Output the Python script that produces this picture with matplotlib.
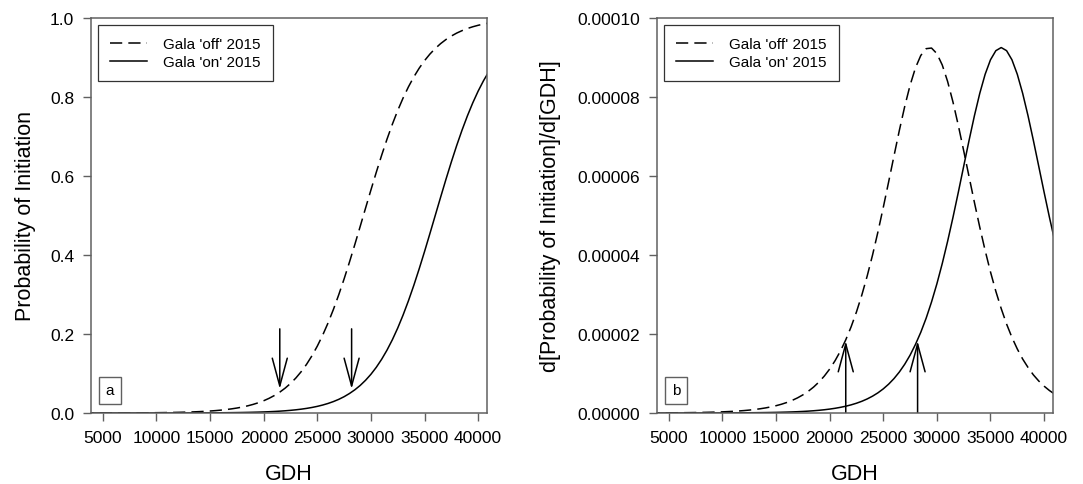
import matplotlib
matplotlib.use("Agg")
import matplotlib.pyplot as plt
from matplotlib.patches import FancyArrowPatch

plt.rcParams['font.family'] = ['Liberation Sans', 'DejaVu Sans']

gdh = [3000, 3500, 4000, 4500, 5000, 5500, 6000, 6500, 7000, 7500, 8000,
       8500, 9000, 9500, 10000, 10500, 11000, 11500, 12000, 12500, 13000,
       13500, 14000, 14500, 15000, 15500, 16000, 16500, 17000, 17500, 18000,
       18500, 19000, 19500, 20000, 20500, 21000, 21500, 22000, 22500, 23000,
       23500, 24000, 24500, 25000, 25500, 26000, 26500, 27000, 27500, 28000,
       28500, 29000, 29500, 30000, 30500, 31000, 31500, 32000, 32500, 33000,
       33500, 34000, 34500, 35000, 35500, 36000, 36500, 37000, 37500, 38000,
       38500, 39000, 39500, 40000, 40500, 41000, 41500, 42000]

prob_off = [0.00006, 0.00007, 0.00009, 0.0001, 0.00012, 0.00015, 0.00018,
            0.00022, 0.00026, 0.00031, 0.00038, 0.00045, 0.00055, 0.00066,
            0.00079, 0.00095, 0.00115, 0.00138, 0.00166, 0.002, 0.0024,
            0.00288, 0.00347, 0.00417, 0.00502, 0.00602, 0.00724, 0.0087,
            0.01045, 0.01255, 0.01506, 0.01806, 0.02166, 0.02593, 0.03103,
            0.03712, 0.0443, 0.05285, 0.0629, 0.07474, 0.08858, 0.1047,
            0.1233, 0.1448, 0.1693, 0.1969, 0.2278, 0.262, 0.2993, 0.3394,
            0.382, 0.4265, 0.4723, 0.5185, 0.5644, 0.6092, 0.6523, 0.693,
            0.7309, 0.7657, 0.7972, 0.8255, 0.8506, 0.8726, 0.8918, 0.9084,
            0.9226, 0.9349, 0.9453, 0.9541, 0.9616, 0.9678, 0.9732, 0.9776,
            0.9813, 0.9844, 0.987, 0.9892, 0.991]

prob_on = [0.000005, 0.000006, 0.000007, 0.000009, 0.00001, 0.000013,
           0.000015, 0.000018, 0.000022, 0.000026, 0.000032, 0.000038,
           0.000046, 0.000055, 0.000066, 0.00008, 0.000096, 0.000116,
           0.000139, 0.000167, 0.000202, 0.000242, 0.000292, 0.000351,
           0.000423, 0.000507, 0.000611, 0.000734, 0.000884, 0.00106,
           0.00128, 0.00154, 0.00185, 0.00222, 0.00268, 0.00322, 0.00388,
           0.00466, 0.0056, 0.00673, 0.00808, 0.00971, 0.01166, 0.01399,
           0.01679, 0.02014, 0.02413, 0.02889, 0.03455, 0.04127, 0.04932,
           0.05869, 0.06976, 0.0828, 0.09796, 0.1156, 0.1359, 0.1591, 0.1854,
           0.215, 0.2479, 0.284, 0.323, 0.3647, 0.4085, 0.4539, 0.5, 0.5461,
           0.5915, 0.6353, 0.677, 0.716, 0.7521, 0.785, 0.8146, 0.8409,
           0.8641, 0.8844, 0.902]

# derivative values in units of 1e-5 per GDH
deriv_off_e5 = [0.0022, 0.0026, 0.0032, 0.0038, 0.0046, 0.0056, 0.0067, 0.008,
                0.0097, 0.0116, 0.014, 0.0168, 0.0202, 0.0243, 0.0292, 0.0352,
                0.0423, 0.0509, 0.0612, 0.0737, 0.0886, 0.1063, 0.1279,
                0.1536, 0.1848, 0.2214, 0.2659, 0.3191, 0.3826, 0.4585,
                0.5488, 0.6562, 0.7841, 0.9345, 1.1125, 1.3225, 1.5665,
                1.8521, 2.181, 2.5587, 2.9872, 3.4683, 3.9997, 4.5818, 5.2036,
                5.8508, 6.5085, 7.1542, 7.7595, 8.2956, 8.7349, 9.0502,
                9.2217, 9.2372, 9.0963, 8.8088, 8.3917, 7.8718, 7.2773, 6.638,
                5.982, 5.3298, 4.702, 4.1133, 3.5701, 3.0788, 2.6421, 2.252,
                1.9132, 1.6203, 1.3662, 1.153, 0.965, 0.8103, 0.679, 0.5682,
                0.4747, 0.3953, 0.33]

deriv_on_e5 = [0.0002, 0.0002, 0.0003, 0.0003, 0.0004, 0.0005, 0.0006, 0.0007,
               0.0008, 0.001, 0.0012, 0.0014, 0.0017, 0.002, 0.0025, 0.003,
               0.0036, 0.0043, 0.0051, 0.0062, 0.0075, 0.009, 0.0108, 0.013,
               0.0156, 0.0188, 0.0226, 0.0271, 0.0327, 0.0393, 0.0473, 0.0568,
               0.0683, 0.0821, 0.0989, 0.1188, 0.143, 0.1716, 0.206, 0.2473,
               0.2965, 0.3558, 0.4264, 0.5104, 0.6108, 0.7302, 0.8713, 1.0381,
               1.2342, 1.464, 1.7348, 2.044, 2.4011, 2.8099, 3.2697, 3.7827,
               4.3452, 4.9503, 5.588, 6.2447, 6.8985, 7.5238, 8.0909, 8.5728,
               8.9404, 9.1712, 9.25, 9.1712, 8.9404, 8.5728, 8.0909, 7.5238,
               6.8985, 6.2447, 5.588, 4.9503, 4.3452, 3.7827, 3.2697]

deriv_off = [v * 1e-5 for v in deriv_off_e5]
deriv_on = [v * 1e-5 for v in deriv_on_e5]

# arrows: x position, (start, end) values
arrows_a_x = [21500, 28200]
arrows_a_y = [(0.213, 0.061), (0.213, 0.061)]
arrows_b_x = [21500, 28200]
arrows_b_y = [(0.0, 1.82e-5), (0.0, 1.82e-5)]

xticks = [5000, 10000, 15000, 20000, 25000, 30000, 35000, 40000]
yticks_a = [0.0, 0.2, 0.4, 0.6, 0.8, 1.0]
yticks_b = [0.0, 0.00002, 0.00004, 0.00006, 0.00008, 0.0001]

fig = plt.figure(figsize=(10.83, 4.85), dpi=100)
ax1 = fig.add_axes([0.084, 0.1464, 0.3657, 0.8146])
ax2 = fig.add_axes([0.6066, 0.1464, 0.3657, 0.8146])

spine_col = '#606060'
dash = (8, 4)


def style(ax):
    for s in ax.spines.values():
        s.set_color(spine_col)
        s.set_linewidth(1.1)
    ax.tick_params(direction='out', length=6, width=1.0, color=spine_col,
                   labelsize=12.5, pad=6)
    ax.set_xlim(3890, 40830)
    ax.set_xticks(xticks)
    ax.set_xticklabels([str(t) for t in xticks])
    ax.set_xlabel('GDH', fontsize=15.5, labelpad=13)


def add_arrow(ax, x, y0, y1):
    arr = FancyArrowPatch((x, y0), (x, y1),
                          arrowstyle='->,head_length=1.0,head_width=0.27',
                          mutation_scale=20, lw=1.1, color='black',
                          shrinkA=0, shrinkB=0)
    ax.add_patch(arr)


def add_legend(ax):
    leg = ax.legend(loc='upper left', bbox_to_anchor=(0.018, 0.982),
                    fontsize=11, frameon=True, fancybox=False,
                    handlelength=2.4, handletextpad=1.05, borderpad=0.8,
                    labelspacing=0.25, borderaxespad=0)
    leg.get_frame().set_edgecolor('black')
    leg.get_frame().set_linewidth(0.9)


def add_panel_label(ax, s):
    ax.text(0.048, 0.057, s, transform=ax.transAxes, fontsize=11,
            ha='center', va='center',
            bbox=dict(boxstyle='square,pad=0.45', fc='white', ec=spine_col,
                      lw=1.0))


# Panel a
ax1.plot(gdh, prob_off, color='black', lw=1.1, dashes=dash,
         label="Gala 'off' 2015")
ax1.plot(gdh, prob_on, color='black', lw=1.1, label="Gala 'on' 2015")
for x, (y0, y1) in zip(arrows_a_x, arrows_a_y):
    add_arrow(ax1, x, y0, y1)
style(ax1)
ax1.set_ylim(0, 1.0)
ax1.set_yticks(yticks_a)
ax1.set_yticklabels(['%.1f' % t for t in yticks_a])
ax1.set_ylabel('Probability of Initiation', fontsize=15.5, labelpad=10)
add_legend(ax1)
add_panel_label(ax1, 'a')

# Panel b
ax2.plot(gdh, deriv_off, color='black', lw=1.1, dashes=dash,
         label="Gala 'off' 2015")
ax2.plot(gdh, deriv_on, color='black', lw=1.1, label="Gala 'on' 2015")
for x, (y0, y1) in zip(arrows_b_x, arrows_b_y):
    add_arrow(ax2, x, y0, y1)
style(ax2)
ax2.set_ylim(0, 0.0001)
ax2.set_yticks(yticks_b)
ax2.set_yticklabels(['%.5f' % t for t in yticks_b])
ax2.set_ylabel('d[Probability of Initiation]/d[GDH]', fontsize=15.5,
               labelpad=12)
add_legend(ax2)
add_panel_label(ax2, 'b')

fig.savefig('out.png', dpi=100)
